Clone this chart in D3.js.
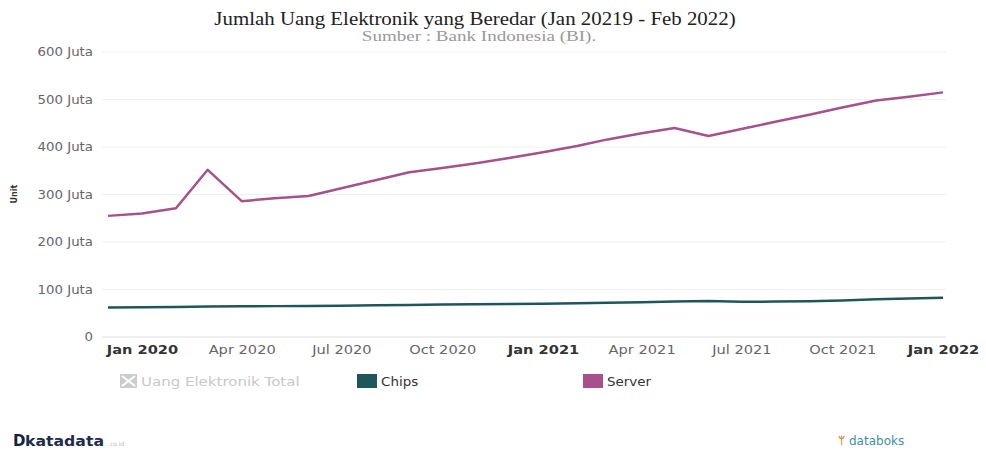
<!DOCTYPE html>
<html>
<head>
<meta charset="utf-8">
<script src="https://cdn.jsdelivr.net/npm/d3@7"></script>
<style>
  body { margin: 0; background: #fff; }
  svg { display: block; }
</style>
</head>
<body>
<script>
// data (Juta unit)
const months = ["2019-12", "2020-01", "2020-02", "2020-03", "2020-04", "2020-05", "2020-06",
  "2020-07", "2020-08", "2020-09", "2020-10", "2020-11", "2020-12", "2021-01", "2021-02",
  "2021-03", "2021-04", "2021-05", "2021-06", "2021-07", "2021-08", "2021-09", "2021-10",
  "2021-11", "2021-12", "2022-01"];
const chips = [62, 62.5, 63, 64, 64.5, 65, 65.5, 66, 67, 67.5, 68.5, 69, 69.5, 70, 71,
  72, 73, 74.5, 76, 74, 74.5, 75.5, 77, 79.5, 81, 82.5];
const server = [255, 260, 271, 352, 286, 292, 297, 313, 330, 347, 356, 366, 377, 389, 402,
  416, 429, 440, 423, 438, 453, 468, 483, 498, 506, 515];
const yTicks = [0, 100, 200, 300, 400, 500, 600];
const xTicks = ["2020-01", "2020-04", "2020-07", "2020-10", "2021-01", "2021-04", "2021-07", "2021-10", "2022-01"];

const W = 986, H = 456;
const parse = d3.timeParse("%Y-%m");
const dates = months.map(parse);

const svg = d3.select("body").append("svg").attr("width", W).attr("height", H);

const x = d3.scaleTime().domain(d3.extent(dates)).range([108, 943]);
const y = d3.scaleLinear().domain([0, 600]).range([337, 52]);

// the source picture is a bit wider than tall, stretch text to match
function stretch(sel, k) {
  sel.each(function () {
    const len = this.getComputedTextLength();
    d3.select(this).attr("textLength", len * k).attr("lengthAdjust", "spacingAndGlyphs");
  });
}

// title
svg.append("text")
  .attr("x", 475).attr("y", 25)
  .attr("text-anchor", "middle")
  .attr("font-family", "Liberation Serif, Times New Roman, serif")
  .attr("font-size", "18px")
  .attr("fill", "#222")
  .text("Jumlah Uang Elektronik yang Beredar (Jan 20219 - Feb 2022)")
  .call(stretch, 1.16);
svg.append("text")
  .attr("x", 479).attr("y", 41)
  .attr("text-anchor", "middle")
  .attr("font-family", "Liberation Serif, Times New Roman, serif")
  .attr("font-size", "15px")
  .attr("fill", "#999")
  .text("Sumber : Bank Indonesia (BI).")
  .call(stretch, 1.27);

// gridlines
svg.append("g")
  .selectAll("line")
  .data(yTicks)
  .enter()
  .append("line")
  .attr("x1", 102).attr("x2", 946)
  .attr("y1", d => y(d)).attr("y2", d => y(d))
  .attr("stroke", d => d === 0 ? "#e0e0e0" : "#f0f0f0")
  .attr("stroke-width", 1);

// y axis
const yAxis = svg.append("g")
  .attr("transform", "translate(93,0)")
  .call(d3.axisLeft(y).tickValues(yTicks).tickSize(0).tickPadding(0)
    .tickFormat(d => d === 0 ? "0" : d + " Juta"));
yAxis.select(".domain").remove();
yAxis.selectAll("text")
  .attr("font-family", "DejaVu Sans, Verdana, sans-serif")
  .attr("font-size", "11.5px")
  .attr("fill", "#666")
  .attr("transform", "scale(1.16,1)");

svg.append("text")
  .attr("transform", "translate(17,194) rotate(-90)")
  .attr("text-anchor", "middle")
  .attr("font-family", "DejaVu Sans, Verdana, sans-serif")
  .attr("font-size", "8px")
  .attr("font-weight", "bold")
  .attr("fill", "#333")
  .text("Unit");

// x axis
const fmt = d3.timeFormat("%b %Y");
const xAxis = svg.append("g")
  .attr("transform", "translate(0,337)")
  .call(d3.axisBottom(x).tickValues(xTicks.map(parse)).tickSize(0).tickPadding(8)
    .tickFormat(fmt));
xAxis.select(".domain").remove();
xAxis.selectAll("text")
  .attr("font-family", "DejaVu Sans, Verdana, sans-serif")
  .attr("font-size", "12.5px")
  .attr("font-weight", d => d.getMonth() === 0 ? "bold" : "normal")
  .attr("fill", d => d.getMonth() === 0 ? "#333" : "#666")
  .attr("transform", "scale(1.17,1)");

// lines
const line = d3.line()
  .x((d, i) => x(dates[i]))
  .y(d => y(d));

svg.append("path")
  .datum(chips)
  .attr("d", line)
  .attr("fill", "none")
  .attr("stroke", "#1f565b")
  .attr("stroke-width", 2.5)
  .attr("stroke-linejoin", "round");

svg.append("path")
  .datum(server)
  .attr("d", line)
  .attr("fill", "none")
  .attr("stroke", "#a5528a")
  .attr("stroke-width", 2.5)
  .attr("stroke-linejoin", "round");

// legend
const legend = svg.append("g")
  .attr("font-family", "DejaVu Sans, Verdana, sans-serif")
  .attr("font-size", "12px");

const hid = legend.append("g").attr("transform", "translate(120,374)");
hid.append("rect").attr("width", 17).attr("height", 14).attr("fill", "#ccc");
hid.append("path").attr("d", "M2,2L15,12M15,2L2,12").attr("stroke", "#fff").attr("stroke-width", 2);
hid.append("text").attr("x", 21).attr("y", 11.5).attr("fill", "#c8c8c8")
  .text("Uang Elektronik  Total")
  .call(stretch, 1.25);

const items = [
  { name: "Chips", color: "#1f565b", x: 357 },
  { name: "Server", color: "#a8508d", x: 583 }
];
items.forEach(it => {
  const g = legend.append("g").attr("transform", "translate(" + it.x + ",374)");
  g.append("rect").attr("width", 20).attr("height", 14).attr("fill", it.color);
  g.append("text").attr("x", 24).attr("y", 11.5).attr("fill", "#333").text(it.name)
    .call(stretch, 1.12);
});

// footer logos
const kd = svg.append("g").attr("transform", "translate(13,446)");
kd.append("text")
  .attr("font-family", "DejaVu Sans, Verdana, sans-serif")
  .attr("font-size", "15px").attr("font-weight", "bold").attr("fill", "#14213d")
  .text("D");
kd.append("text")
  .attr("x", 12)
  .attr("font-family", "DejaVu Sans, Verdana, sans-serif")
  .attr("font-size", "14px").attr("font-weight", "bold").attr("fill", "#1e2b4a")
  .text("katadata")
  .call(stretch, 1.12);
kd.append("text")
  .attr("x", 95)
  .attr("font-family", "DejaVu Sans, Verdana, sans-serif")
  .attr("font-size", "6px").attr("fill", "#bbb")
  .text(".co.id");

const db = svg.append("g").attr("transform", "translate(838,445)");
db.append("text")
  .attr("font-family", "DejaVu Sans, Verdana, sans-serif")
  .attr("font-size", "12px").attr("font-weight", "bold").attr("fill", "#e8893a")
  .text("ᛘ");
db.append("text")
  .attr("x", 11)
  .attr("font-family", "DejaVu Sans, Verdana, sans-serif")
  .attr("font-size", "12px").attr("fill", "#3e8fa6")
  .text("databoks");
</script>
</body>
</html>
